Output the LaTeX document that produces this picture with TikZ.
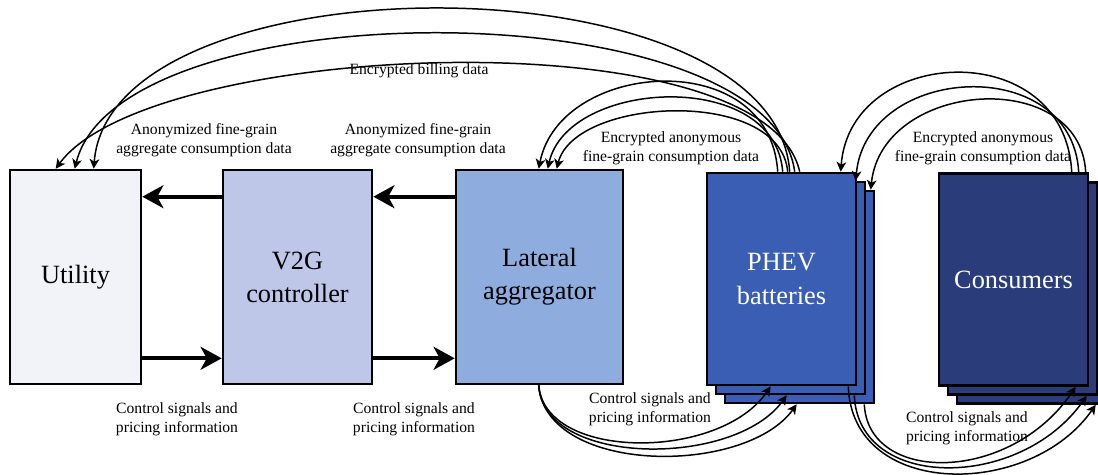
\documentclass[tikz,border=0pt]{standalone}
\usepackage{fontspec}
\setmainfont{Liberation Serif}
\usetikzlibrary{calc, arrows.meta}

\definecolor{utilfill}{RGB}{242,243,249}
\definecolor{v2gfill}{RGB}{191,199,233}
\definecolor{latfill}{RGB}{142,173,222}
\definecolor{phevfill}{RGB}{58,94,180}
\definecolor{consfill}{RGB}{43,60,122}

\begin{document}
\begin{tikzpicture}[x=0.02cm, y=-0.02cm,
    blk/.style={draw, line width=1.5pt, inner sep=0pt, minimum width=2.98cm, minimum height=4.24cm,
      align=center, font=\fontsize{15}{18.8}\selectfont},
    lbl/.style={align=center, font=\fontsize{8.9}{10.8}\selectfont},
    bigarr/.style={-{Stealth[length=12pt, width=13pt, inset=3.5pt]}, line width=2.3pt},
    flow/.style={-{Stealth[length=5.5pt, width=5.5pt, inset=1.5pt]}, line width=0.85pt}]
  \useasboundingbox (0,0) rectangle (1098,474);

  \node[blk, fill=utilfill, minimum width=2.62cm, minimum height=4.28cm] (util) at (75.5,277) {Utility};
  \node[blk, fill=v2gfill, minimum height=4.28cm] (v2g) at (297.5,277) {V2G\\controller};
  \node[blk, fill=latfill, minimum width=3.34cm, minimum height=4.28cm] (lat) at (539.5,277) {Lateral\\aggregator};
  \node[blk, fill=phevfill] (phev3) at (799.5,297) {};
  \node[blk, fill=phevfill] (phev2) at (790.5,288) {};
  \node[blk, fill=phevfill, text=white] (phev) at (781.5,279) {PHEV\\batteries};
  \node[blk, fill=consfill] (cons3) at (1031.5,297.5) {};
  \node[blk, fill=consfill] (cons2) at (1022.5,288.5) {};
  \node[blk, fill=consfill, text=white] (cons) at (1013.5,279.5) {Consumers};

  \draw[bigarr] ($(v2g.north west)+(0,28)$) -- ($(util.north east)+(0,28)$);
  \draw[bigarr] ($(lat.north west)+(0,28)$) -- ($(v2g.north east)+(0,28)$);
  \draw[bigarr] ($(util.south east)+(0,-27)$) -- ($(v2g.south west)+(0,-27)$);
  \draw[bigarr] ($(v2g.south east)+(0,-27)$) -- ($(lat.south west)+(0,-27)$);

  \draw[flow] ($(phev.north west)+(94,0)$) .. controls (765,15) and (150,40) .. ($(util.north west)+(47,0)$);
  \draw[flow] ($(phev.north west)+(89,0)$) .. controls (770,-12) and (120,-12) .. ($(util.north west)+(66,0)$);
  \draw[flow] ($(phev.north west)+(84,0)$) .. controls (775,-45) and (110,-45) .. ($(util.north west)+(85,0)$);

  \draw[flow] ($(phev.north west)+(72,0)$) .. controls (770,45) and (560,60) .. ($(lat.north west)+(84,0)$);
  \draw[flow] ($(phev.north west)+(77,0)$) .. controls (775,68) and (568,79) .. ($(lat.north west)+(93,0)$);
  \draw[flow] ($(phev.north west)+(82,0)$) .. controls (780,87) and (575,97) .. ($(lat.north west)+(102,0)$);

  \draw[flow] ($(cons.north west)+(134,0)$) .. controls (1065,35) and (850,45) .. ($(phev.north west)+(135,0)$);
  \draw[flow] ($(cons.north west)+(141,0)$) .. controls (1072,52) and (866,64) .. ($(phev2.north west)+(141,0)$);
  \draw[flow] ($(cons.north west)+(148,0)$) .. controls (1080,66) and (882,80) .. ($(phev3.north west)+(147,0)$);

  \draw[flow] ($(lat.south west)+(84,0)$) .. controls (545,461) and (720,461) .. ($(phev.south west)+(65,0)$);
  \draw[flow] ($(lat.south west)+(84,0)$) .. controls (543,467) and (735,468) .. ($(phev2.south west)+(72,0)$);
  \draw[flow] ($(lat.south west)+(84,0)$) .. controls (546,475) and (745,476) .. ($(phev3.south west)+(73,0)$);

  \draw[flow] ($(phev3.south east)+(-11,0)$) .. controls (868,484) and (1010,484) .. ($(cons.south west)+(138,0)$);
  \draw[flow] ($(phev2.south east)+(-12,0)$) .. controls (858,491) and (1020,491) .. ($(cons2.south west)+(140,0)$);
  \draw[flow] ($(phev.south east)+(-9,0)$) .. controls (852,499) and (1030,499) .. ($(cons3.south west)+(140,0)$);

  \node[lbl] (billing) at (419,71) {Encrypted billing data};
  \node[lbl] (anonA) at (204,140) {Anonymized fine-grain\\aggregate consumption data};
  \node[lbl] (anonB) at (418,140) {Anonymized fine-grain\\aggregate consumption data};
  \node[lbl] (encA) at (671,148) {Encrypted anonymous\\fine-grain consumption data};
  \node[lbl] (encB) at (983,148) {Encrypted anonymous\\fine-grain consumption data};
  \node[lbl] (ctrlA) at (177,419) {Control signals and\\pricing information};
  \node[lbl] (ctrlB) at (414,419) {Control signals and\\pricing information};
  \node[lbl] (ctrlC) at (650,409) {Control signals and\\pricing information};
  \node[lbl] (ctrlD) at (967,428) {Control signals and\\pricing information};
\end{tikzpicture}
\end{document}
